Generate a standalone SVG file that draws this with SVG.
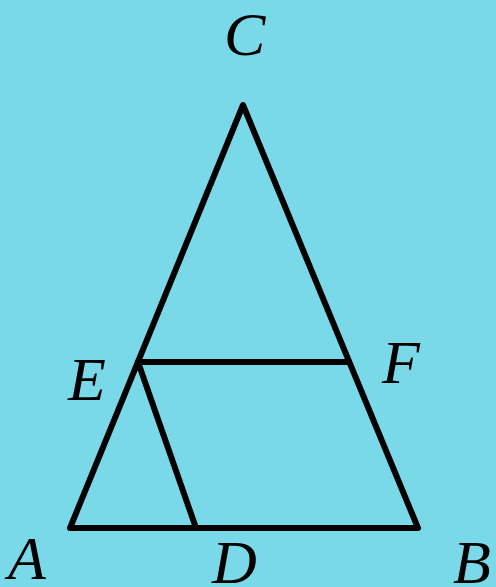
<svg xmlns="http://www.w3.org/2000/svg" width="496" height="587" viewBox="0 0 496 587">
<style>
.lbl{font-family:"Liberation Serif","Times New Roman",serif;font-style:italic;font-size:62px;fill:#000}
.ln{stroke:#000;stroke-width:6;fill:none;stroke-linejoin:round;stroke-linecap:round}
</style>
<rect width="496" height="587" fill="#7AD9E9"/>
<g id="connectors">
<path class="ln" d="M70,528 L243,105 L418,528 Z"/>
<line class="ln" x1="138" y1="362" x2="349" y2="362"/>
<line class="ln" x1="138" y1="362" x2="196" y2="528"/>
</g>
<g id="C"><text class="lbl" x="224" y="55">C</text></g>
<g id="E"><text class="lbl" x="68" y="400">E</text></g>
<g id="F"><text class="lbl" x="382" y="383">F</text></g>
<g id="A"><text class="lbl" x="8" y="579">A</text></g>
<g id="D"><text class="lbl" x="212" y="583">D</text></g>
<g id="B"><text class="lbl" x="453" y="583">B</text></g>
</svg>
